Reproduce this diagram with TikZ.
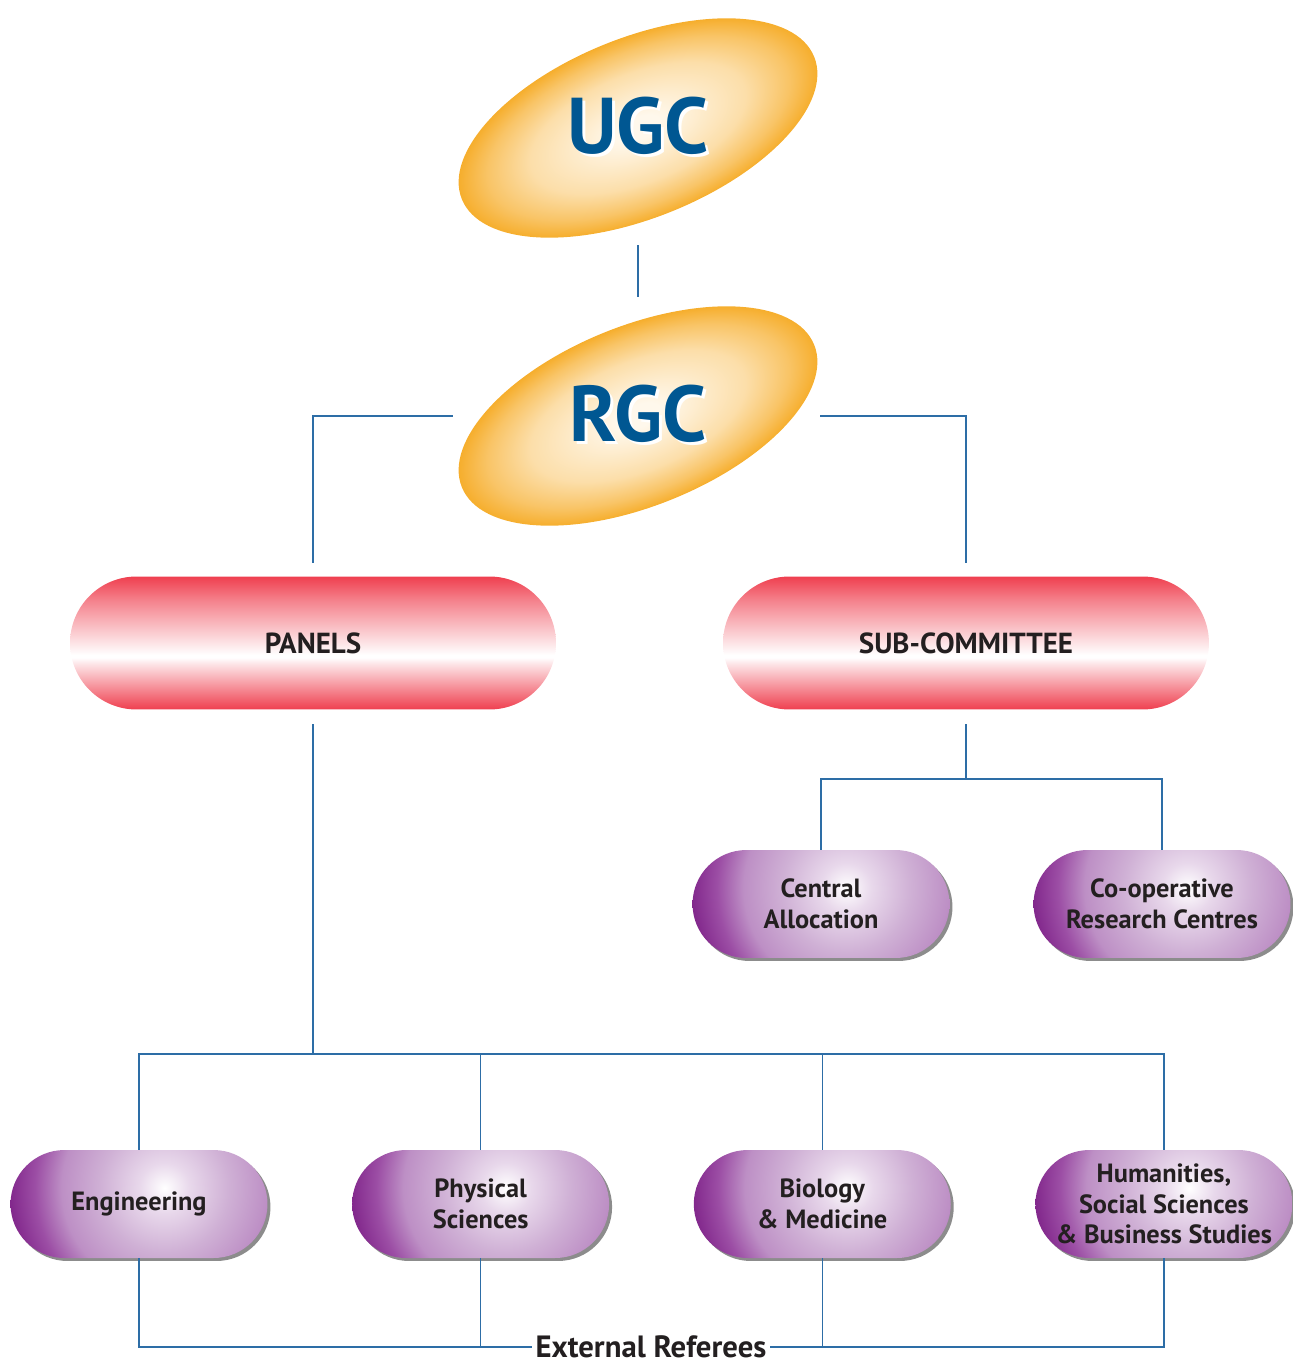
\documentclass[tikz,border=0pt]{standalone}
\usepackage{fontspec}
\setmainfont{PT Sans}
\usetikzlibrary{positioning,shapes.geometric,shadows}

\definecolor{hubblue}{HTML}{005792}
\definecolor{hubgold}{HTML}{F6AE2D}
\definecolor{hubcream}{HTML}{FFF8EC}
\definecolor{pillred}{HTML}{EF3F4F}
\definecolor{lilacpale}{HTML}{E8D8EB}
\definecolor{lilac}{HTML}{CFB0D5}
\definecolor{lilacmid}{HTML}{BD8FC5}
\definecolor{plum}{HTML}{9C4EA5}
\definecolor{plumdark}{HTML}{82288C}
\definecolor{linkblue}{HTML}{2D6DA6}
\definecolor{inkgrey}{HTML}{231F20}

% path box = middle 50bp of each shading
\pgfdeclareradialshading{hubglow}{\pgfpoint{0bp}{0bp}}{color(0bp)=(hubcream); color(3bp)=(hubcream); color(15bp)=(hubgold!35!hubcream); color(21bp)=(hubgold!70!hubcream); color(25bp)=(hubgold); color(50bp)=(hubgold)}
\pgfdeclareradialshading{pillglow}{\pgfpoint{0bp}{0bp}}{color(0bp)=(white); color(3.5bp)=(lilacpale); color(9bp)=(lilac); color(14.3bp)=(lilacmid); color(18bp)=(plum); color(21.5bp)=(plumdark); color(50bp)=(plumdark)}
\pgfdeclareverticalshading{boardband}{100bp}{color(0bp)=(pillred); color(25bp)=(pillred); color(36bp)=(pillred!45!white); color(42.5bp)=(pillred!12!white); color(44.5bp)=(white); color(45.5bp)=(white); color(55bp)=(pillred!30!white); color(66bp)=(pillred!65!white); color(75bp)=(pillred); color(100bp)=(pillred)}

\newcommand{\hubtext}[1]{\raisebox{0.12cm}{\makebox[0pt][l]{\kern1.7pt\raisebox{-1.7pt}{\color{white}#1}}#1}}

\tikzset{%
	hub/.style    = {ellipse, minimum width=7.2cm, minimum height=4.36cm, inner sep=0pt, text=hubblue, font=\fontsize{45}{50}\selectfont\bfseries},
	board/.style  = {rectangle, rounded corners=1.33cm, minimum width=9.72cm, minimum height=2.66cm, inner sep=0pt, shade, shading=boardband, text=inkgrey, font=\fontsize{16.5}{19}\selectfont\bfseries},
	panel/.style  = {rectangle, rounded corners=1.08cm, minimum width=5.14cm, minimum height=2.16cm, inner sep=0pt, align=center, text=inkgrey, font=\fontsize{15}{17.5}\selectfont\bfseries,
		path picture={\shade[shading=pillglow] ([shift={(0.51cm,0.32cm)}]path picture bounding box.center) circle (3.6cm);},
		drop shadow={shadow xshift=1.7pt, shadow yshift=-1.7pt, fill=black!45, opacity=1}},
	link/.style   = {draw=linkblue, line width=0.8pt},
	refs/.style   = {fill=white, inner xsep=2pt, inner ysep=0.5pt, text=inkgrey, font=\fontsize{17.5}{20}\selectfont\bfseries},
}

\begin{document}
\begin{tikzpicture}[x=0.02cm, y=-0.02cm]
	\useasboundingbox (0,0) rectangle (1293,1364);
	% tilted ovals
	\foreach \cy in {128,416} {
		\begin{scope}[transform canvas={shift={(638,\cy)}, rotate=22}]
			\shade[shading=hubglow] (0,0) ellipse [x radius=190, y radius=90];
		\end{scope}
	}
	\node[hub] (ugc) at (638,128) {\hubtext{UGC}};
	\node[hub] (rgc) at (638,416) {\hubtext{RGC}};
	\node[board] (panels) at (313,643) {PANELS};
	\node[board] (subcom) at (966,643) {SUB-COMMITTEE};
	\node[panel] (central) at (821,904) {Central\\Allocation};
	\node[panel] (coop) at (1162,904) {Co-operative\\Research Centres};
	\node[panel] (eng) at (139,1204) {Engineering};
	\node[panel, right=1.68cm of eng] (phys) {Physical\\Sciences};
	\node[panel, right=1.68cm of phys] (bio) {Biology\\\& Medicine};
	\node[panel, right=1.68cm of bio] (hum) {Humanities,\\Social Sciences\\\& Business Studies};
	\coordinate (subfork) at (966,779);
	\coordinate (panfork) at (313,1054);
	\coordinate (refline) at (651,1347);
	\draw[link, shorten <=0.16cm, shorten >=0.2cm] (ugc) -- (rgc);
	\draw[link, shorten <=0.1cm, shorten >=0.27cm] (rgc.west) -| (panels.north);
	\draw[link, shorten <=0.04cm, shorten >=0.27cm] (rgc.east) -| (subcom.north);
	\draw[link, shorten <=0.29cm] (subcom.south) -- (subcom.south |- subfork);
	\draw[link] (central.north) -- (central.north |- subfork) -- (coop.north |- subfork) -- (coop.north);
	\draw[link, shorten <=0.29cm] (panels.south) -- (panels.south |- panfork);
	\draw[link] (eng.north) -- (eng.north |- panfork) -- (hum.north |- panfork) -- (hum.north);
	\draw[link] (phys.north) -- (phys.north |- panfork);
	\draw[link] (bio.north) -- (bio.north |- panfork);
	\draw[link] (eng.south) -- (eng.south |- refline) -- (hum.south |- refline) -- (hum.south);
	\draw[link] (phys.south) -- (phys.south |- refline);
	\draw[link] (bio.south) -- (bio.south |- refline);
	\node[refs] (referees) at (refline) {External Referees};
\end{tikzpicture}
\end{document}
